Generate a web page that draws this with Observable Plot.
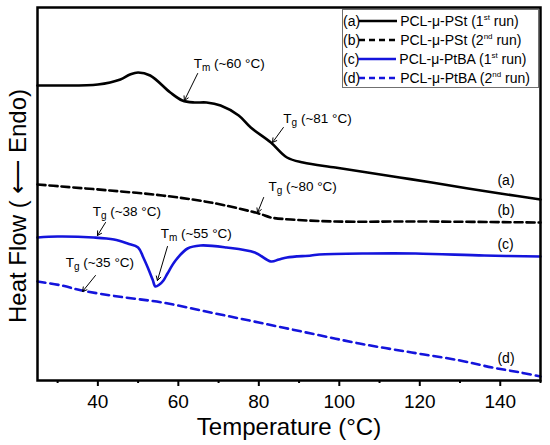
<!DOCTYPE html>
<html><head><meta charset="utf-8">
<script src="https://cdn.jsdelivr.net/npm/d3@7"></script>
<script src="https://cdn.jsdelivr.net/npm/@observablehq/plot@0.6"></script>
<style>
body{margin:0;background:#fff;font-family:"Liberation Sans",Arial,sans-serif;}
#wrap{position:relative;width:550px;height:445px;}
#legend{position:absolute;left:342px;top:9px;width:197px;height:79px;border:1px solid #707070;background:#fff;font-size:14px;box-sizing:border-box;padding-top:1px;color:#000;}
.row{display:flex;align-items:center;height:19px;white-space:nowrap;}
.row svg{margin-left:-1px;margin-right:3px;}
sup{font-size:8px;line-height:0;vertical-align:6px;}
</style>
</head><body>
<div id="wrap"></div>
<script>
// Temperature (°C) and heat flow (arbitrary units)
const aT  = [25, 30, 40, 45.6, 48, 50, 53, 58, 61, 64, 67, 70.5, 75, 78, 83, 87, 91, 99, 107, 115, 123, 132, 140, 150];
const aHF = [295, 295, 296, 301, 306, 308, 305, 288, 280, 278, 278, 275, 265, 253, 238, 223, 218, 213, 208, 203, 198, 192, 187, 181];

const bT  = [25, 31, 43, 56, 68, 80, 83, 88, 99, 120, 150];
const bHF = [196, 194, 190, 185, 178, 167, 163, 161, 159, 159, 158];

const cT  = [25, 30, 39, 44, 47.4, 50, 51.3, 52.5, 53.6, 54.3, 55.3, 56.3, 57.3, 59.3, 62.3, 65.5, 72, 79, 83, 85, 87, 93, 95, 107, 119, 136, 150];
const cHF = [143, 144, 143, 141, 137, 133, 123, 112, 101, 94, 96, 100, 107, 120, 132, 135, 133, 128, 119, 121, 123, 125, 126, 127, 127, 125, 124];

const dT  = [25, 31, 36, 45, 56, 68, 80, 93, 105, 118, 130, 138, 145, 150];
const dHF = [99, 95, 90, 84, 78, 68, 58, 47, 37, 28, 20, 13, 8, 4];

// Series labels
const seriesLabels = ["(a)", "(b)", "(c)", "(d)"];
const seriesLabelT = [139.3, 139.3, 139.3, 139.3];
const seriesLabelHF = [200, 170, 136, 22];

// Transition annotations
const annText = ["Tm (~60 °C)", "Tg (~81 °C)", "Tg (~80 °C)", "Tg (~38 °C)", "Tm (~55 °C)", "Tg (~35 °C)"];
const annT    = [63.8, 86.1, 82.4, 38.7, 55.6, 32.0];
const annHF   = [317, 262, 194, 169, 147, 118];
const arrFromT  = [64.8, 86.1, 81.2, 41.9, 57.3, 39.4];
const arrFromHF = [307, 253, 183, 158, 134, 105];
const arrToT    = [61.5, 83.4, 79.7, 39.9, 54.8, 36.2];
const arrToHF   = [280, 238, 168, 145, 100, 89];

const xMajor = [40, 60, 80, 100, 120, 140];
const xMinor = [30, 50, 70, 90, 110, 130, 150];
const xLabel = "Temperature (°C)";
const yLabel = "Heat Flow ( \u27f5 Endo)";

const legendNames = ["PCL-\u03bc-PSt (1<sup>st</sup> run)", "PCL-\u03bc-PSt (2<sup>nd</sup> run)", "PCL-\u03bc-PtBA (1<sup>st</sup> run)", "PCL-\u03bc-PtBA (2<sup>nd</sup> run)"];

const BLUE = "#1414dc";
const zip = (T, H) => T.map((t, i) => ({T: t, HF: H[i]}));
const seriesLabelData = seriesLabels.map((s, i) => ({s, T: seriesLabelT[i], HF: seriesLabelHF[i]}));
const ann = annText.map((s, i) => ({s, T: annT[i], HF: annHF[i], x1: arrFromT[i], y1: arrFromHF[i], x2: arrToT[i], y2: arrToHF[i]}));

const chart = Plot.plot({
  width: 550, height: 445,
  marginLeft: 37, marginRight: 10, marginTop: 7, marginBottom: 65,
  style: {fontFamily: "'Liberation Sans', Arial, sans-serif", color: "#000", background: "#fff"},
  x: {domain: [25, 150]},
  y: {domain: [0, 373], axis: null},
  marks: [
    Plot.line(zip(dT, dHF), {x: "T", y: "HF", stroke: BLUE, strokeWidth: 2.6, strokeDasharray: "8,5", curve: "catmull-rom"}),
    Plot.line(zip(cT, cHF), {x: "T", y: "HF", stroke: BLUE, strokeWidth: 2.6, curve: "catmull-rom"}),
    Plot.line(zip(bT, bHF), {x: "T", y: "HF", stroke: "#000", strokeWidth: 2.6, strokeDasharray: "8,4", curve: "catmull-rom"}),
    Plot.line(zip(aT, aHF), {x: "T", y: "HF", stroke: "#000", strokeWidth: 2.6, curve: "catmull-rom"}),
    Plot.arrow(ann, {x1: "x1", y1: "y1", x2: "x2", y2: "y2", stroke: "#000", strokeWidth: 1, headLength: 7}),
    Plot.text(ann, {x: "T", y: "HF", text: "s", textAnchor: "start", fontSize: 13.5, fill: "#000"}),
    Plot.text(seriesLabelData, {x: "T", y: "HF", text: "s", textAnchor: "start", fontSize: 14, fill: "#000"}),
    Plot.frame({stroke: "#000", strokeWidth: 2.5}),
    Plot.axisX({ticks: xMajor, tickSize: 6, tickPadding: 8, fontSize: 19, strokeWidth: 2, label: null, tickFormat: d => d}),
    Plot.axisX({ticks: xMinor, tickSize: 3, text: null, strokeWidth: 2, label: null}),
    Plot.text([xLabel], {frameAnchor: "bottom", dy: 47, fontSize: 24, fill: "#000", lineAnchor: "middle"})
  ]
});

// Subscripts for T_g / T_m annotation labels
d3.select(chart).selectAll("text").each(function() {
  const t = this.textContent;
  const m = /^T([gm]) (\(.*\))$/.exec(t);
  if (!m || this.children.length > 0) return;
  const sel = d3.select(this);
  sel.text(null);
  sel.append("tspan").text("T");
  sel.append("tspan").attr("font-size", 10).attr("dy", 3).text(m[1]);
  sel.append("tspan").attr("dy", -3).text(" " + m[2]);
});

// Y-axis title (no ticks on this axis)
d3.select(chart).append("text")
  .attr("transform", "translate(18,206) rotate(-90)")
  .attr("text-anchor", "middle")
  .attr("dy", "0.35em")
  .attr("font-size", 24)
  .attr("fill", "#000")
  .text(yLabel);

const wrap = document.getElementById("wrap");
wrap.appendChild(chart);

const legend = document.createElement("div");
legend.id = "legend";
const styles = [
  {stroke: "#000", dash: null}, {stroke: "#000", dash: "6,4"},
  {stroke: BLUE, dash: null}, {stroke: BLUE, dash: "6,4"}
];
legend.innerHTML = seriesLabels.map((s, i) => `<div class="row"><span>${s}</span><svg width="38" height="10"><line x1="0" y1="5" x2="38" y2="5" stroke="${styles[i].stroke}" stroke-width="2.6" ${styles[i].dash ? `stroke-dasharray="${styles[i].dash}"` : ""}/></svg><span>${legendNames[i]}</span></div>`).join("");
wrap.appendChild(legend);
</script>
</body></html>
